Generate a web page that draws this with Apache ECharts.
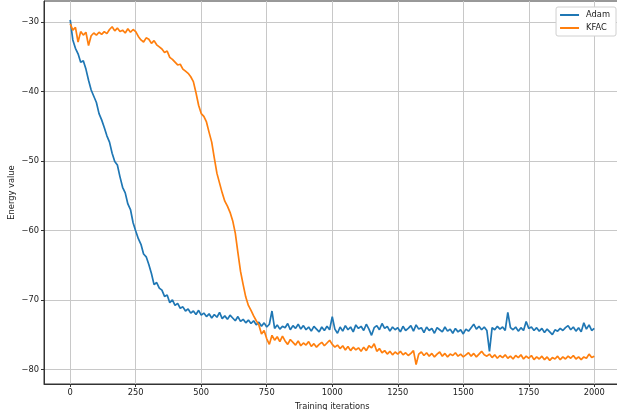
<!DOCTYPE html>
<html>
<head>
<meta charset="utf-8">
<script src="https://cdn.jsdelivr.net/npm/echarts@6/dist/echarts.min.js"></script>
<style>
  html, body { margin: 0; padding: 0; background: #fff; }
  #chart { width: 617px; height: 410px; }
</style>
</head>
<body>
<div id="chart"></div>
<script>
// iterations are sampled every 10 steps, 0 .. 2000
var step = 10;
var xTicks = [0, 250, 500, 750, 1000, 1250, 1500, 1750, 2000];
var yTicks = [-80, -70, -60, -50, -40, -30];
var seriesNames = ['Adam', 'KFAC'];

var adam = [
  -29.7, -32.6, -33.8, -34.6, -35.8, -35.6, -36.8, -38.4, -39.8, -40.7,
  -41.6, -43.2, -44.1, -45.2, -46.4, -47.3, -48.9, -50.1, -50.6, -52.3,
  -53.8, -54.6, -56.2, -57.0, -58.9, -60.1, -61.2, -62.0, -63.4, -63.8,
  -64.9, -66.2, -67.8, -67.5, -68.3, -68.6, -69.5, -69.3, -70.4, -70.0,
  -70.8, -70.5, -71.2, -71.0, -71.6, -71.3, -71.9, -71.6, -72.1, -71.5,
  -72.2, -71.9, -72.4, -72.0, -72.6, -72.1, -72.5, -71.8, -72.7, -72.3,
  -72.8, -72.2, -72.6, -73.0, -72.4, -73.1, -72.8, -73.3, -72.9, -73.4,
  -73.0, -73.6, -73.2, -73.8, -73.3, -73.9, -73.5, -71.6, -74.1, -73.6,
  -74.2, -73.8, -74.0, -73.4, -74.3, -73.7, -74.1, -73.5, -74.2, -73.7,
  -74.3, -73.9, -74.5, -73.8, -74.2, -74.6, -73.9, -74.4, -73.8, -74.3,
  -72.4, -74.2, -74.8, -73.9, -74.5, -73.7, -74.3, -73.9, -74.6, -73.6,
  -74.1, -73.8, -74.4, -73.5, -74.2, -75.1, -74.0, -73.7, -74.3, -73.4,
  -74.1, -73.8, -74.5, -73.9, -74.3, -74.0, -74.6, -73.8, -74.4, -74.1,
  -73.7, -74.5, -73.6, -74.2, -74.0, -74.7, -73.9, -74.4, -74.1, -74.8,
  -74.0, -74.3, -74.6, -73.9, -74.5, -74.2, -74.8, -74.1, -74.6, -74.3,
  -74.9, -74.2, -74.5, -74.0, -73.5, -74.2, -73.8, -74.3, -73.9, -74.4,
  -77.4, -74.0, -74.3, -73.8, -74.2, -73.9, -74.4, -71.8, -74.0, -74.3,
  -73.9, -74.5, -74.0, -74.4, -73.1, -74.1, -73.9, -74.4, -74.0, -74.5,
  -74.1, -74.7, -74.2, -74.6, -75.0, -74.3, -74.5, -74.1, -74.4, -74.0,
  -73.7, -74.3, -73.9, -74.5, -74.0, -74.6, -73.3, -74.2, -73.6, -74.4,
  -74.1
];

var kfac = [
  -30.3, -31.2, -30.8, -32.9, -31.4, -31.9, -31.5, -33.4, -32.0, -31.6,
  -31.9, -31.5, -31.8, -31.4, -31.7, -31.1, -30.7, -31.3, -30.9, -31.4,
  -31.2, -31.6, -31.0, -31.5, -31.1, -31.4, -32.1, -32.6, -32.9, -32.3,
  -32.5, -33.1, -32.7, -33.3, -33.6, -33.9, -34.4, -34.2, -35.1, -35.4,
  -35.8, -36.2, -36.1, -36.8, -37.1, -37.4, -37.9, -38.6, -40.2, -42.0,
  -43.2, -43.6, -44.4, -45.9, -47.3, -49.6, -51.8, -53.2, -54.6, -55.8,
  -56.5, -57.4, -58.6, -60.4, -63.2, -65.9, -67.8, -69.6, -70.8, -71.5,
  -72.3, -73.0, -73.6, -74.9, -74.4, -75.6, -76.4, -75.1, -75.8, -75.3,
  -76.0, -75.2, -75.9, -76.4, -75.7, -76.1, -76.5, -75.9, -76.6, -76.2,
  -76.5, -76.0, -76.7, -76.3, -76.8, -76.4, -76.1, -76.6, -76.2, -75.8,
  -76.4, -76.8, -76.5, -77.0, -76.6, -77.2, -76.7, -77.3, -76.8, -77.2,
  -76.9, -77.4, -76.8, -77.3, -76.6, -76.9, -76.3, -77.4, -77.0, -77.6,
  -77.3, -77.8, -77.4, -77.9, -77.5, -77.8, -77.4, -77.9, -77.6, -78.0,
  -77.7, -77.3, -79.3, -77.8, -77.5, -78.0, -77.6, -78.1, -77.7, -78.2,
  -77.8, -77.5, -78.1, -77.7, -78.2, -77.8, -78.0, -77.6, -78.1, -77.8,
  -78.2, -77.9, -77.6, -78.1, -77.7, -78.2, -77.8, -77.4, -77.9, -78.1,
  -77.8, -78.3, -77.9, -78.4, -78.0, -78.3, -77.9, -78.4, -78.1, -78.5,
  -78.0, -78.3, -77.9, -78.5, -78.1, -78.4, -78.0, -78.6, -78.2, -78.5,
  -78.1, -78.6, -78.2, -78.7, -78.3, -78.5, -78.1, -78.6, -78.2, -78.5,
  -78.1, -78.4, -78.0, -78.5, -78.2, -78.6, -78.2, -78.4, -77.8, -78.3,
  -78.1
];

function toPairs(arr) {
  return arr.map(function (v, i) { return [i * step, v]; });
}

function minusFmt(v) {
  return v < 0 ? '\u2212' + Math.abs(v) : String(v);
}

var font = 'DejaVu Sans';
var fs = 8.3;
var txt = '#222';

var chart = echarts.init(document.getElementById('chart'), null, { renderer: 'canvas' });

var option = {
  animation: false,
  backgroundColor: '#fff',
  textStyle: { fontFamily: font },
  grid: {
    left: 44, right: -3.5, top: 1, bottom: 26,
    outerBoundsMode: 'none',
    containLabel: false,
    show: true, borderColor: '#333', borderWidth: 1, backgroundColor: 'transparent'
  },
  legend: {
    data: seriesNames,
    orient: 'vertical',
    right: 1,
    top: 7,
    itemWidth: 19,
    itemHeight: 2,
    itemGap: 5,
    padding: [4, 6, 4, 3],
    backgroundColor: '#fff',
    borderColor: '#d0d0d0',
    borderWidth: 1,
    borderRadius: 2,
    textStyle: { fontFamily: font, fontSize: fs, color: txt, padding: [0, 0, 0, 2] }
  },
  xAxis: {
    type: 'value',
    min: -100,
    max: 2100,
    name: 'Training iterations',
    nameLocation: 'middle',
    nameGap: 19,
    nameMoveOverlap: false,
    nameTextStyle: { fontFamily: font, fontSize: fs, color: txt },
    axisLine: { show: true, onZero: false, lineStyle: { color: '#333', width: 1 } },
    axisTick: { show: true, length: 3, customValues: xTicks, lineStyle: { color: '#333' } },
    axisLabel: { customValues: xTicks, fontFamily: font, fontSize: fs, color: txt, margin: 5, formatter: function (v) { return String(v); } },
    splitLine: { show: true, lineStyle: { color: '#c8c8c8', width: 1 } }
  },
  yAxis: {
    type: 'value',
    min: -82.1,
    max: -27.0,
    name: 'Energy value',
    nameLocation: 'middle',
    nameGap: 28,
    nameMoveOverlap: false,
    nameTextStyle: { fontFamily: font, fontSize: fs, color: txt },
    axisLine: { show: true, onZero: false, lineStyle: { color: '#333', width: 1 } },
    axisTick: { show: true, length: 3, customValues: yTicks, lineStyle: { color: '#333' } },
    axisLabel: { customValues: yTicks, fontFamily: font, fontSize: fs, color: txt, margin: 5, formatter: minusFmt },
    splitLine: { show: true, lineStyle: { color: '#c8c8c8', width: 1 } }
  },
  series: [
    {
      name: 'Adam',
      type: 'line',
      data: toPairs(adam),
      showSymbol: false,
      symbol: 'none',
      lineStyle: { color: '#1f77b4', width: 1.7 },
      itemStyle: { color: '#1f77b4' },
      z: 3
    },
    {
      name: 'KFAC',
      type: 'line',
      data: toPairs(kfac),
      showSymbol: false,
      symbol: 'none',
      lineStyle: { color: '#ff7f0e', width: 1.7 },
      itemStyle: { color: '#ff7f0e' },
      z: 4
    }
  ]
};

chart.setOption(option);
</script>
</body>
</html>
